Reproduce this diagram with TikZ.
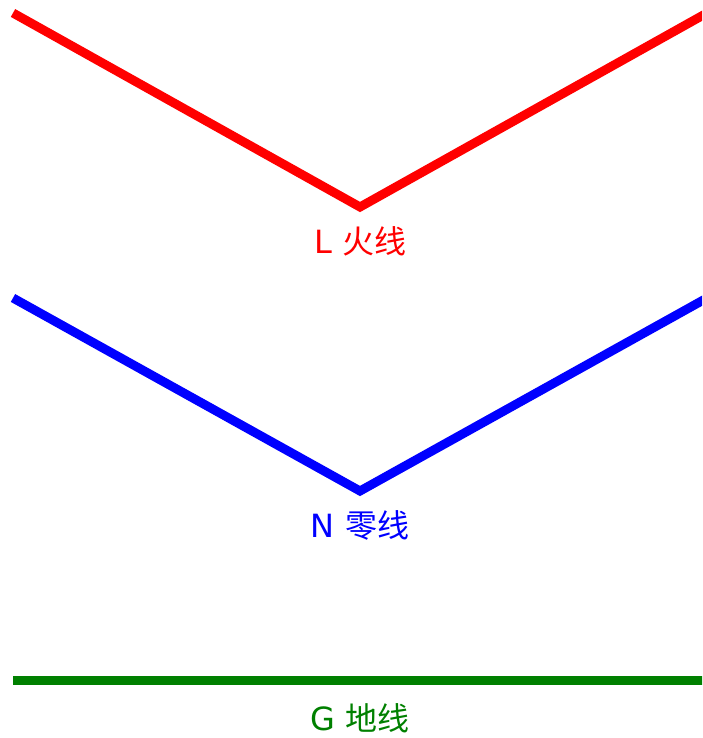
\documentclass[tikz,border=0pt]{standalone}
\usepackage{fontspec}
\setmainfont{DejaVu Sans}
\newfontfamily\cjk{Noto Sans CJK SC}
\definecolor{wireL}{RGB}{255,0,0}
\definecolor{wireN}{RGB}{0,0,255}
\definecolor{wireG}{RGB}{0,128,0}
\begin{document}
\begin{tikzpicture}[x=1pt,y=1pt,
  wire/.style={line width=9pt,line cap=butt,line join=miter},
  lbl/.style={anchor=base,inner sep=0pt,font=\fontsize{32}{36}\selectfont}]
\useasboundingbox (0,0) rectangle (702,738);
\clip (0,0) rectangle (702,738);
% L wire
\coordinate (l1) at (13,725);
\coordinate (l2) at (360,531);
\coordinate (l3) at (707,725);
\draw[wire,wireL] (l1) -- (l2) -- (l3);
\node[lbl,text=wireL] (lL) at (360,484) {L {\cjk 火线}};
% N wire
\coordinate (n1) at (13,440);
\coordinate (n2) at (360,247);
\coordinate (n3) at (707,440);
\draw[wire,wireN] (n1) -- (n2) -- (n3);
\node[lbl,text=wireN] (lN) at (360,200) {N {\cjk 零线}};
% G wire
\coordinate (g1) at (13,57);
\coordinate (g2) at (360,57);
\coordinate (g3) at (707,57);
\draw[wire,wireG] (g1) -- (g2) -- (g3);
\node[lbl,text=wireG] (lG) at (360,8) {G {\cjk 地线}};
\end{tikzpicture}
\end{document}
